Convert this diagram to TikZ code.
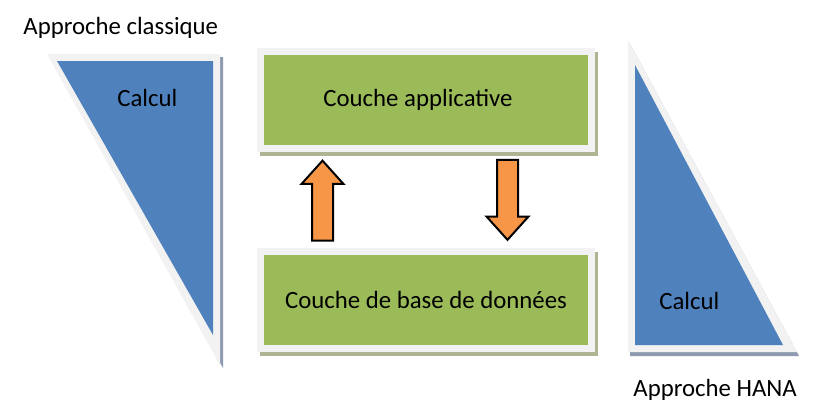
\documentclass[tikz,border=0pt]{standalone}
\usepackage{fontspec}
\setmainfont{Carlito}
\usepackage{xcolor}
\usepackage{tikz}
\usetikzlibrary{shapes.arrows, positioning}
\definecolor{calcblue}{HTML}{4F81BD}
\definecolor{layergreen}{HTML}{9BBB59}
\definecolor{flowarrow}{HTML}{F79646}
\definecolor{rim}{HTML}{F2F2F2}
\definecolor{layershadow}{HTML}{AEB391}
\definecolor{calcshadow}{HTML}{8E9AB0}

\begin{document}
\begin{tikzpicture}[
    x=0.5pt, y=-0.5pt,
    every node/.style={font=\fontsize{12.4}{14}\selectfont},
    layer/.style={draw=rim, line width=3.5pt, fill=layergreen,
                  minimum width=165.5pt, minimum height=48.5pt, inner sep=0pt,
                  preaction={fill=layershadow, draw=layershadow, line width=3.5pt,
                             transform canvas={shift={(1.5pt,-2pt)}}}},
    flow/.style={single arrow, draw=black, line width=1pt, fill=flowarrow,
                 minimum height=40pt, minimum width=0pt, inner xsep=0pt, inner ysep=4.75pt,
                 single arrow head extend=5.25pt, single arrow tip angle=84, line join=miter},
    caption/.style={anchor=base west, inner sep=0pt}
  ]
    \useasboundingbox (0,0) rectangle (821,412);

    % Calcul triangles
    \fill[calcshadow] (50,57) -- (223,57) -- (223,368) -- cycle;
    \fill[rim] (47,54) -- (220,54) -- (220,365) -- cycle;
    \fill[calcblue] (57,61) -- (213,61) -- (213,335) -- cycle;

    \fill[calcshadow] (630,44) -- (630,356) -- (799,356) -- cycle;
    \fill[rim] (628,40) -- (628,352) -- (797,352) -- cycle;
    \fill[calcblue] (635,65) -- (635,345) -- (783,345) -- cycle;

    \node[caption] (calcleft) at (117,106) {Calcul};
    \node[caption] (calcright) at (659,309) {Calcul};
    \node[caption] (classic) at (23,34) {Approche classique};
    \node[caption] (hana) at (633,396) {Approche HANA};

    % Layers
    \node[layer] (app) at (426,100) {\hspace*{-8pt}Couche applicative};
    \node[layer, below=48pt of app] (db) {Couche de base de donn\'ees};

    \node[flow, rotate=90] (up) at (322.5,206.5) {};
    \node[flow, rotate=-90] (down) at (507.5,194) {};
  \end{tikzpicture}
\end{document}
